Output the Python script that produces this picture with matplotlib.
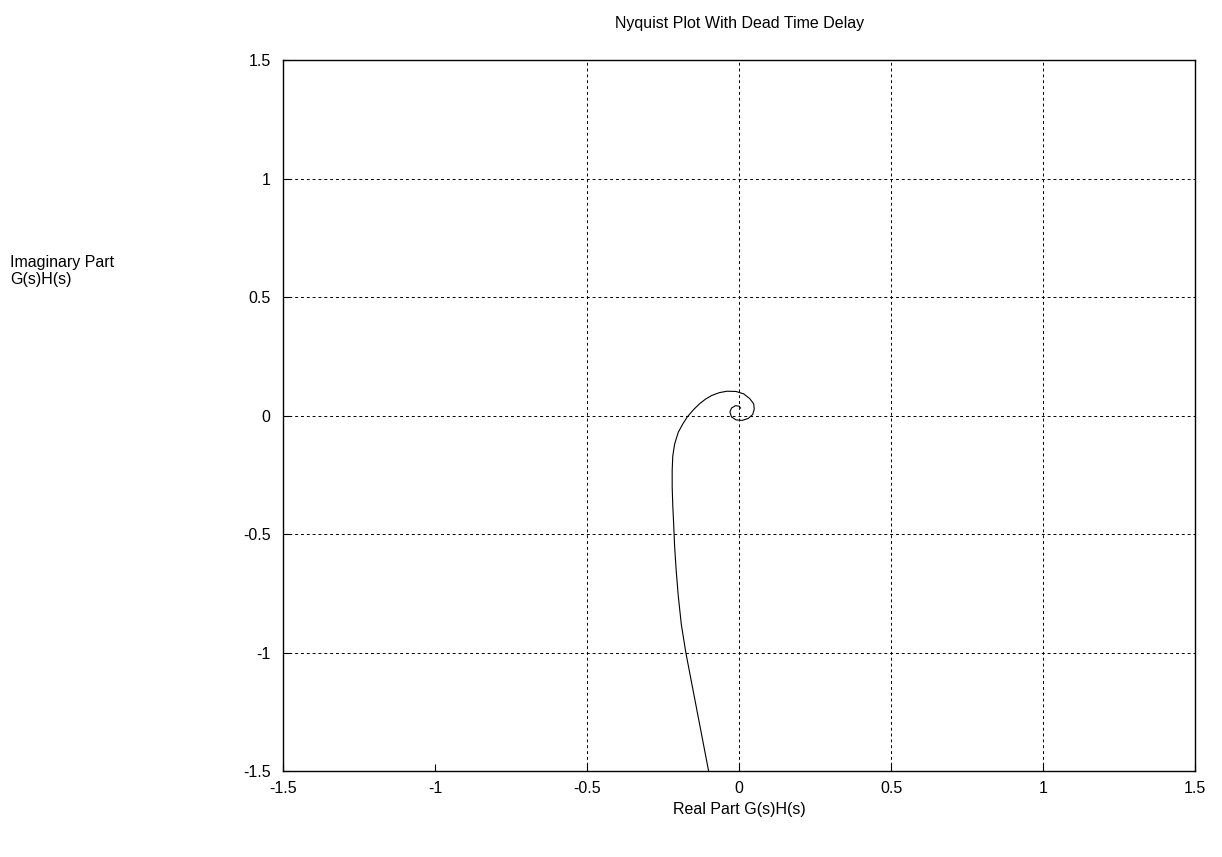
"""
Nyquist plot with dead time delay.
"""

import matplotlib.pyplot as plt
import numpy as np

plt.rcParams["font.family"] = ["Liberation Sans", "DejaVu Sans"]

# Curve (real, imaginary), from bottom edge to spiral end
real_part = [
    -0.10, -0.115, -0.13, -0.145, -0.16, -0.175, -0.19, -0.20,
    -0.207, -0.212, -0.215, -0.218, -0.22, -0.22, -0.218, -0.212,
    -0.20, -0.185, -0.17, -0.15, -0.13, -0.11, -0.09, -0.065,
    -0.04, -0.01, 0.015, 0.035, 0.048, 0.05, 0.045, 0.03,
    0.01, -0.01, -0.025, -0.03, -0.025, -0.012, 0.0, 0.005,
]
imag_part = [
    -1.50, -1.40, -1.30, -1.20, -1.10, -1.00, -0.88, -0.76,
    -0.65, -0.55, -0.46, -0.38, -0.30, -0.23, -0.17, -0.12,
    -0.07, -0.035, -0.005, 0.025, 0.05, 0.07, 0.085, 0.097,
    0.103, 0.102, 0.092, 0.072, 0.05, 0.028, 0.005, -0.012,
    -0.02, -0.018, -0.005, 0.015, 0.032, 0.042, 0.04, 0.032,
]

ticks = [-1.5, -1, -0.5, 0, 0.5, 1, 1.5]
tick_labels = ["-1.5", "-1", "-0.5", "0", "0.5", "1", "1.5"]

fig = plt.figure(figsize=(12.22, 8.57), dpi=100)

ax = fig.add_axes([0.2316, 0.100, 0.7464, 0.830])

ax.plot(
    real_part,
    imag_part,
    color="black",
    linewidth=0.8,
)

ax.set_xlim(-1.5, 1.5)
ax.set_ylim(-1.5, 1.5)

ax.set_xticks(ticks)
ax.set_xticklabels(tick_labels)
ax.set_yticks(ticks)
ax.set_yticklabels(tick_labels)

ax.tick_params(
    direction="in",
    length=5,
    labelsize=11.5,
)
ax.tick_params(axis="x", pad=7)
ax.tick_params(axis="y", pad=9)

ax.grid(
    True,
    color="black",
    linestyle=(0, (3, 3)),
    linewidth=0.7,
)

# The x = -1 grid line is absent in the reference
for tick, line in zip(ax.get_xticks(), ax.get_xgridlines()):
    if np.isclose(tick, -1):
        line.set_visible(False)

for spine in ax.spines.values():
    spine.set_linewidth(1.0)

ax.set_title(
    "Nyquist Plot With Dead Time Delay",
    fontsize=11.5,
    pad=23,
)

ax.set_xlabel(
    "Real Part G(s)H(s)",
    fontsize=11.5,
    labelpad=4,
)

fig.text(
    0.008,
    0.684,
    "Imaginary Part\nG(s)H(s)",
    fontsize=11.5,
    ha="left",
    va="center",
)

fig.savefig("out.png", dpi=100)
